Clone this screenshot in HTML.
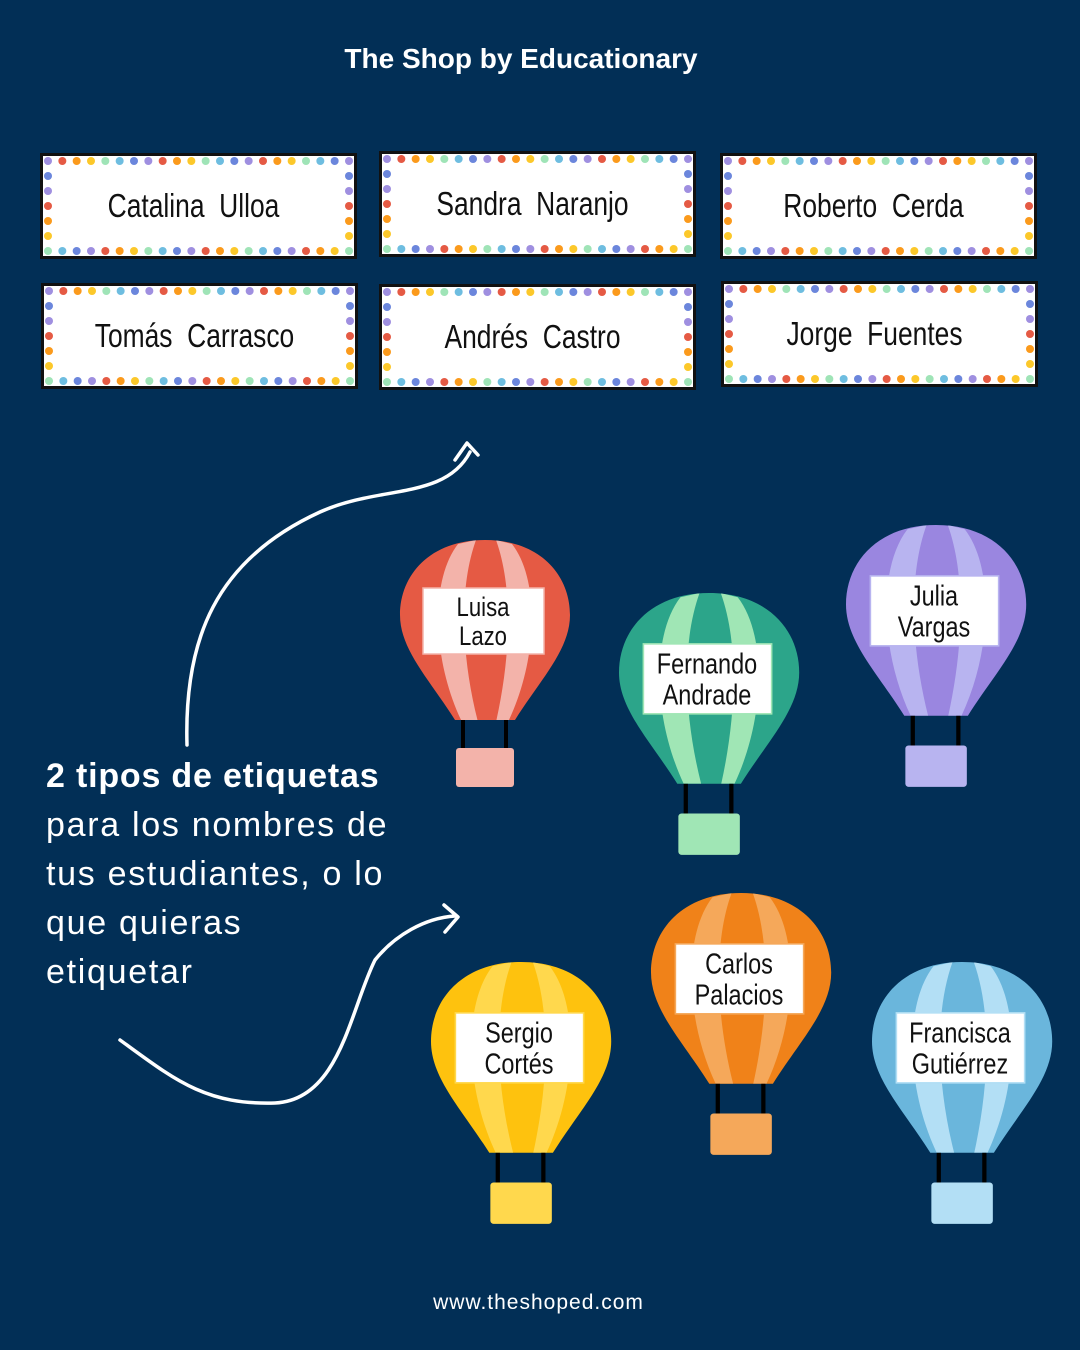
<!DOCTYPE html>
<html><head><meta charset="utf-8"><style>
html,body{margin:0;padding:0}
body{width:1080px;height:1350px;background:#022f56;position:relative;overflow:hidden;font-family:"Liberation Sans",sans-serif}
.t{position:absolute;color:#fff;white-space:nowrap}
</style></head><body>
<div class="t" style="left:0;width:1042px;top:43px;text-align:center;font-weight:bold;font-size:28px;">The Shop by Educationary</div>
<div class="t" style="left:46px;top:752px;font-size:34px;line-height:49px;letter-spacing:1.7px;">
<b style="letter-spacing:0.8px">2 tipos de etiquetas</b><br>para los nombres de<br>tus estudiantes, o lo<br>que quieras<br>etiquetar</div>
<div class="t" style="left:0;width:1077px;top:1291px;text-align:center;font-size:21px;letter-spacing:1px;">www.theshoped.com</div>
<svg id="s" width="1080" height="1350" style="position:absolute;left:0;top:0" xmlns="http://www.w3.org/2000/svg">
<g fill="none" stroke="#fff" stroke-width="3.5" stroke-linecap="round" stroke-linejoin="round">
<path d="M187 745 C184 640 215 560 320 512 C380 485 445 500 470 452"/>
<path d="M455 460 L467 443 L478 455"/>
<path d="M120 1040 C175 1080 205 1105 275 1103 C340 1100 350 1010 375 960 C395 935 425 918 455 916"/>
<path d="M444 905 L458 917 L445 932"/>
</g>
</svg>
<script>
var s=document.getElementById('s'),h='';
var cols=['#9f8fe0','#e55a44','#fb9a1c','#fcc82a','#9fe4b7','#6ebde0','#6b86dc'];
var cards=[[40,153,'Catalina  Ulloa'],[379,151,'Sandra  Naranjo'],[720,153,'Roberto  Cerda'],[41,283,'Tomás  Carrasco'],[379,284,'Andrés  Castro'],[721,281,'Jorge  Fuentes']];
cards.forEach(function(c){var x=c[0],y=c[1],w=317,hh=106;
h+='<rect x="'+(x+1.5)+'" y="'+(y+1.5)+'" width="'+(w-3)+'" height="'+(hh-3)+'" fill="#fff" stroke="#111" stroke-width="3"/>';
var k=0;for(var i=0;i<22;i++){var cx=x+8+i*(w-16)/21;
h+='<circle cx="'+cx+'" cy="'+(y+8)+'" r="4" fill="'+cols[k++%7]+'"/>';
h+='<circle cx="'+cx+'" cy="'+(y+hh-8)+'" r="4" fill="'+cols[(k+3)%7]+'"/>';}
for(var j=1;j<6;j++){var cy=y+8+j*(hh-16)/6;h+='<circle cx="'+(x+8)+'" cy="'+cy+'" r="4" fill="'+cols[(j+5)%7]+'"/><circle cx="'+(x+w-8)+'" cy="'+cy+'" r="4" fill="'+cols[(j+5)%7]+'"/>';}
h+='<g transform="translate('+(x+w/2-5)+','+(y+hh/2+11)+') scale(0.8,1)"><text x="0" y="0" text-anchor="middle" font-family="Liberation Sans,sans-serif" font-size="33" fill="#111" xml:space="preserve">'+c[2]+'</text></g>';});
var env="M85 0 C140 0 170 35 170 75 C170 110 140 140 115 180 L55 180 C30 140 0 110 0 75 C0 35 30 0 85 0 Z";
var bal=[[400,540,1,'#e55a44','#f3b3aa','Luisa','Lazo'],[619,593,1.06,'#2ca58a','#a0e6b5','Fernando','Andrade'],[846,525,1.06,'#9a86e0','#b8b4f0','Julia','Vargas'],[431,962,1.06,'#fec20e','#ffd84d','Sergio','Cortés'],[651,893,1.06,'#f08219','#f5a85a','Carlos','Palacios'],[872,962,1.06,'#6ab6dc','#b3dff5','Francisca','Gutiérrez']];
bal.forEach(function(b,i){
h+='<g transform="translate('+b[0]+','+b[1]+') scale('+b[2]+')"><clipPath id="c'+i+'"><path d="'+env+'"/></clipPath>';
h+='<path d="'+env+'" fill="'+b[3]+'"/><g clip-path="url(#c'+i+')" fill="'+b[4]+'"><path d="M58 4 C30 40 32 120 62 182 L78 182 C62 120 58 50 76 0 Z"/><path d="M112 4 C140 40 138 120 108 182 L96 182 C110 120 114 50 96 0 Z"/></g>';
h+='<rect x="61" y="180" width="4" height="30" fill="#000"/><rect x="104" y="180" width="4" height="30" fill="#000"/>';
h+='<rect x="56" y="208" width="58" height="39" rx="3" fill="'+b[4]+'"/>';
h+='<rect x="23" y="48" width="121" height="66" fill="#fff" stroke="'+b[4]+'" stroke-width="1.5"/>';
h+='<g transform="translate(83,0) scale(0.82,1)"><text x="0" y="76" text-anchor="middle" font-family="Liberation Sans,sans-serif" font-size="27" fill="#111">'+b[5]+'</text>';
h+='<text x="0" y="105" text-anchor="middle" font-family="Liberation Sans,sans-serif" font-size="27" fill="#111">'+b[6]+'</text></g></g>';});
s.insertAdjacentHTML('beforeend',h);
</script>
</body></html>
